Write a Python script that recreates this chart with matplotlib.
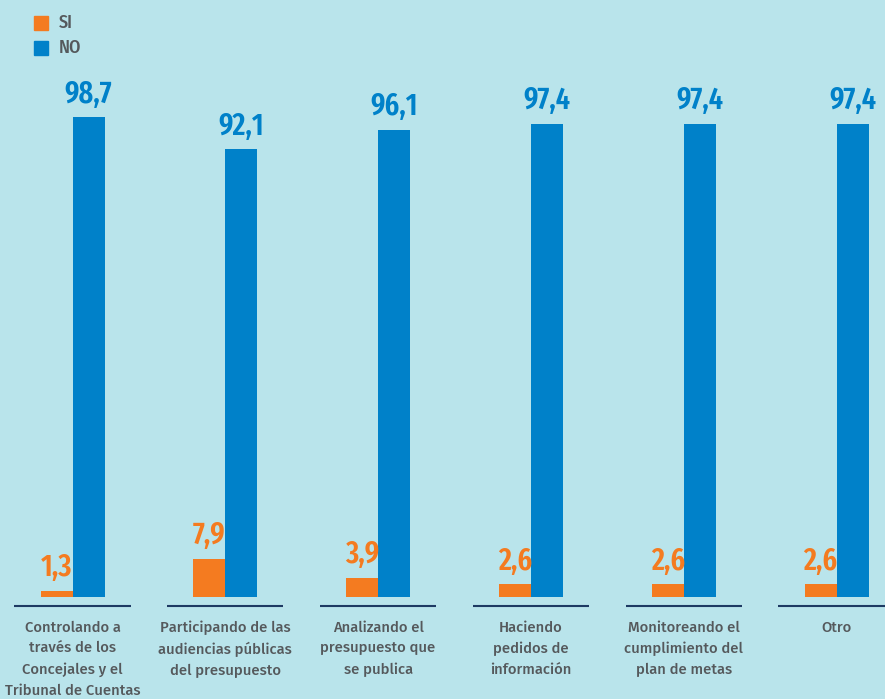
import numpy as np
import matplotlib.pyplot as plt
from matplotlib.patches import Rectangle

categories = [
    "Controlando a\ntravés de los\nConcejales y el\nTribunal de Cuentas",
    "Participando de las\naudiencias públicas\ndel presupuesto",
    "Analizando el\npresupuesto que\nse publica",
    "Haciendo\npedidos de\ninformación",
    "Monitoreando el\ncumplimiento del\nplan de metas",
    "Otro",
]
si_values = [1.3, 7.9, 3.9, 2.6, 2.6, 2.6]
no_values = [98.7, 92.1, 96.1, 97.4, 97.4, 97.4]
series_names = ["SI", "NO"]

ORANGE = "#f47b20"
BLUE = "#0081c9"
BG = "#b9e4eb"
GREY = "#55595c"
NAVY = "#1d3a63"

num_font = ["Fira Sans Extra Condensed", "DejaVu Sans"]
txt_font = ["Fira Sans", "Lato", "DejaVu Sans"]

fig = plt.figure(figsize=(8.85, 6.99), dpi=100)
fig.patch.set_facecolor(BG)

# x in group units: 152.8 px between groups, first centre at 72.5 px
ax = fig.add_axes([0, 102 / 699, 1, 486 / 699])
ax.set_facecolor("none")
ax.set_xlim(-72.5 / 152.8, (885 - 72.5) / 152.8)
ax.set_ylim(0, 100)
ax.axis("off")

x = np.arange(len(categories))
w = 32 / 152.8

ax.bar(x - w / 2, si_values, width=w, color=ORANGE, label=series_names[0])
ax.bar(x + w / 2, no_values, width=w, color=BLUE, label=series_names[1])

for xi, s, n in zip(x, si_values, no_values):
    ax.text(xi - w / 2, s + 1.6, f"{s:.1f}".replace(".", ","), ha="center", va="bottom",
            color=ORANGE, fontsize=22, fontweight="semibold", family=num_font)
    ax.text(xi + w / 2, n + 1.6, f"{n:.1f}".replace(".", ","), ha="center", va="bottom",
            color=BLUE, fontsize=22, fontweight="semibold", family=num_font)
    ax.plot([xi - 0.38, xi + 0.38], [-1.85, -1.85], color=NAVY, lw=1.5,
            clip_on=False, solid_capstyle="butt")

for xi, lab in zip(x, categories):
    ax.text(xi, -4.8, lab, ha="center", va="top", color=GREY, fontsize=10.7,
            fontweight="medium", family=txt_font, linespacing=1.6)

# legend squares in the top-left corner
for i, (name, col) in enumerate(zip(series_names, [ORANGE, BLUE])):
    y0 = 699 - 30 - i * 25
    fig.patches.append(Rectangle((34 / 885, y0 / 699), 14 / 885, 14 / 699,
                                 transform=fig.transFigure, color=col))
    fig.text(59 / 885, (y0 + 7) / 699, name, ha="left", va="center", color=GREY,
             fontsize=13, fontweight="medium", family=["Fira Sans Condensed", "DejaVu Sans"])

fig.savefig("out.png", dpi=100, facecolor=BG)
